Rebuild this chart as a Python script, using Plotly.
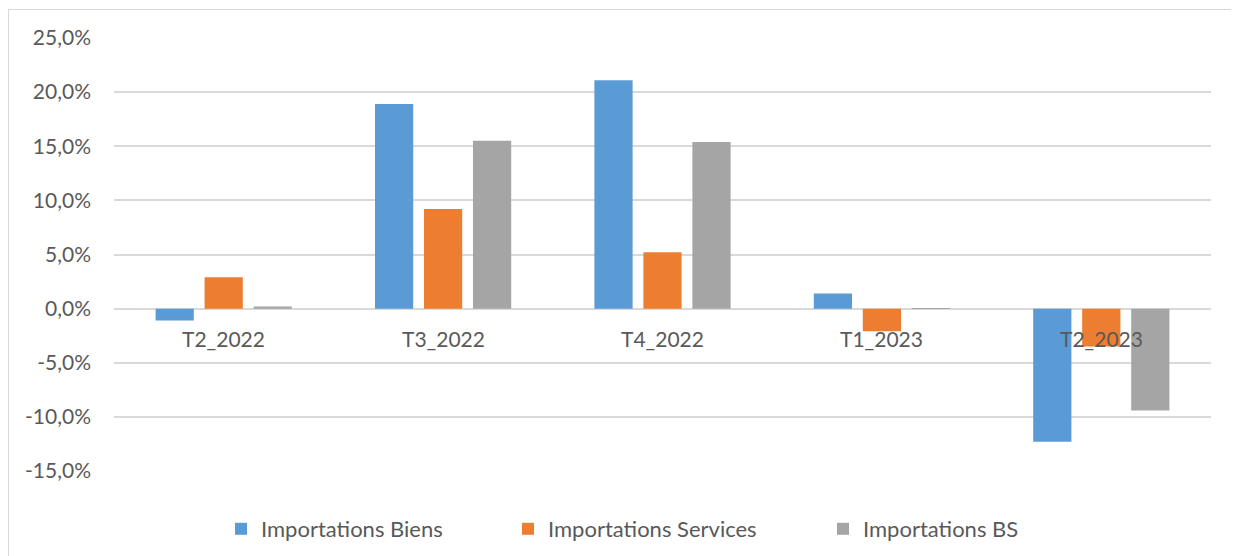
import plotly.graph_objects as go

categories = ["T2_2022", "T3_2022", "T4_2022", "T1_2023", "T2_2023"]
biens = [-1.1, 18.9, 21.1, 1.4, -12.3]
services = [2.9, 9.2, 5.2, -2.1, -3.5]
bs = [0.2, 15.5, 15.4, 0.05, -9.4]
series_names = ["Importations Biens", "Importations Services", "Importations BS"]
colors = ["#5B9BD5", "#ED7D31", "#A5A5A5"]
y_ticks = [-15, -10, -5, 0, 5, 10, 15, 20, 25]
y_ticktext = [f"{v:.1f}".replace(".", ",") + "%" for v in y_ticks]

FONT = "Lato"
TXT = "#595959"
FS = 21

fig = go.Figure()
legends = ["legend", "legend2", "legend3"]
for name, vals, col, lg in zip(series_names, [biens, services, bs], colors, legends):
    fig.add_trace(go.Bar(x=categories, y=vals, name=name, marker=dict(color=col, line=dict(width=0)),
                         legend=lg, showlegend=True))

# page body has an 8px margin; work in screen pixels and convert
OFS = 8
W, H = 1239, 556
L = 114 - OFS
T = 38 - OFS
R = W - (1211 - OFS)
B = H - (471 - OFS)
pw = W - L - R
ph = H - T - B

def px_x(x):
    return (x - OFS - L) / pw

def px_y(y):
    return (H - B - (y - OFS)) / ph

leg_common = dict(orientation="h", font=dict(family=FONT, size=22, color=TXT),
                  bgcolor="rgba(0,0,0,0)", yanchor="middle", xanchor="left")
OFF = 41
fig.update_layout(
    showlegend=True,
    legend=dict(x=px_x(262 - OFF), y=px_y(529), **leg_common),
    legend2=dict(x=px_x(549 - OFF), y=px_y(529), **leg_common),
    legend3=dict(x=px_x(864 - OFF), y=px_y(529), **leg_common),
)

for c in categories:
    fig.add_annotation(x=c, y=0, xref="x", yref="y", text=c, showarrow=False,
                       yshift=-30, font=dict(family=FONT, size=FS, color=TXT))

fig.add_shape(type="line", xref="paper", yref="paper", x0=px_x(8.5), x1=px_x(8.5),
              y0=px_y(9), y1=px_y(600), line=dict(color="#D9D9D9", width=1))
fig.add_shape(type="line", xref="paper", yref="paper", x0=px_x(8.5), x1=px_x(1300),
              y0=px_y(9.5), y1=px_y(9.5), line=dict(color="#D9D9D9", width=1))

fig.update_layout(
    width=W, height=H,
    margin=dict(l=L, r=R, t=T, b=B, autoexpand=False),
    paper_bgcolor="white", plot_bgcolor="white",
    barmode="group", bargap=0.33, bargroupgap=0.22,
    font=dict(family=FONT, color=TXT),
    xaxis=dict(showticklabels=False, showgrid=False, zeroline=False, showline=False,
               ticks=""),
    yaxis=dict(range=[-15, 25], tickvals=y_ticks, ticktext=y_ticktext,
               showgrid=True, gridcolor="#D9D9D9", gridwidth=1.5, zeroline=False,
               showline=False, ticks="", ticklen=0, automargin=False,
               tickfont=dict(family=FONT, size=FS, color=TXT)),
)
fig.update_yaxes(ticklabelstandoff=22)

fig.write_html("out.html")
